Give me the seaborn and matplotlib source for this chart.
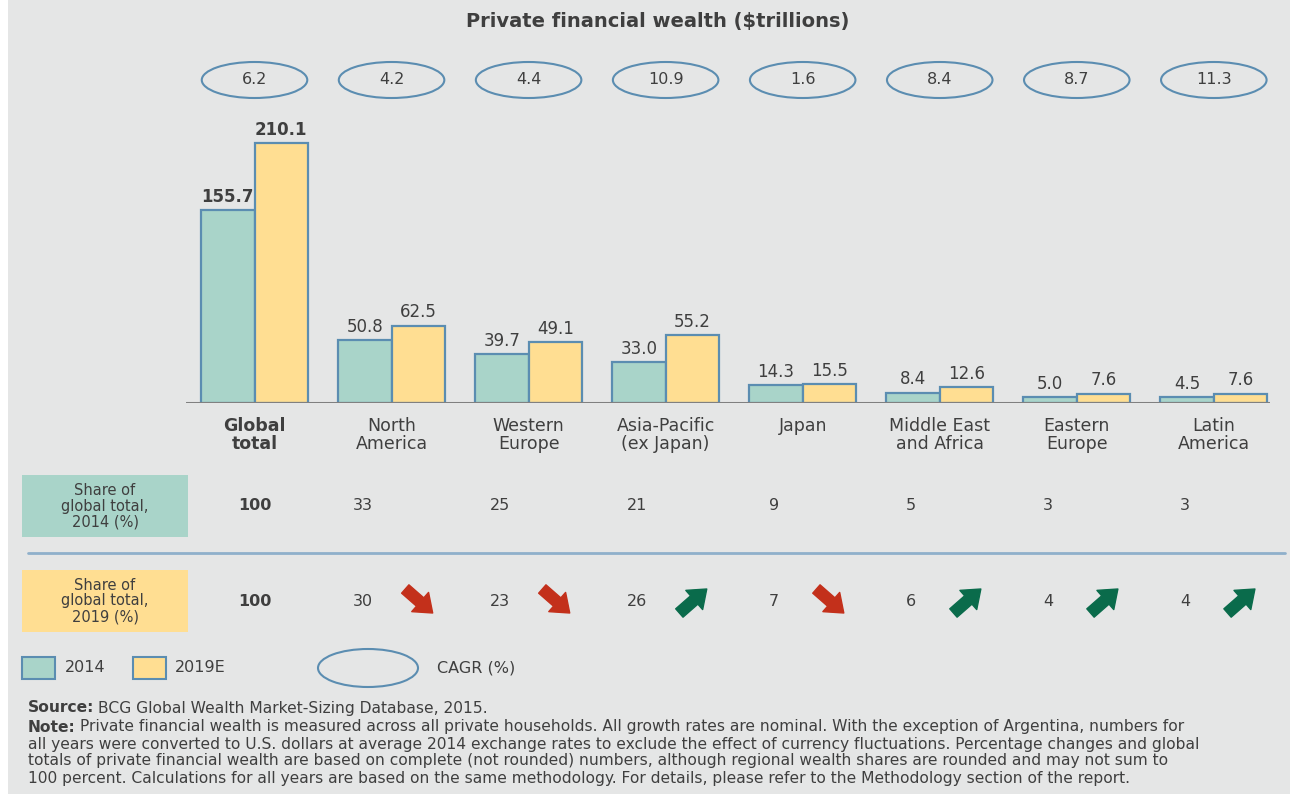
import matplotlib
matplotlib.use('Agg')
import matplotlib.pyplot as plt
import matplotlib.transforms as mtransforms
from matplotlib.patches import Ellipse, Rectangle
import pandas as pd
import seaborn as sns

# --- data ---
regions = ['Global\ntotal', 'North\nAmerica', 'Western\nEurope', 'Asia-Pacific\n(ex Japan)',
           'Japan', 'Middle East\nand Africa', 'Eastern\nEurope', 'Latin\nAmerica']
wealth_2014 = [155.7, 50.8, 39.7, 33.0, 14.3, 8.4, 5.0, 4.5]
wealth_2019 = [210.1, 62.5, 49.1, 55.2, 15.5, 12.6, 7.6, 7.6]
cagr = ['6.2', '4.2', '4.4', '10.9', '1.6', '8.4', '8.7', '11.3']
share_2014 = [100, 33, 25, 21, 9, 5, 3, 3]
share_2019 = [100, 30, 23, 26, 7, 6, 4, 4]
years = ['2014', '2019E']

TEAL = '#A9D4C9'
YELLOW = '#FFDE92'
EDGE = '#5B8DB1'
TEXT = '#3F3F3F'
BG = '#E5E6E6'
RED = '#C3301B'
GREEN = '#0A6B4B'

W, H = 1295, 794

df = pd.DataFrame({
    'region': regions * 2,
    'year': [years[0]] * len(regions) + [years[1]] * len(regions),
    'value': wealth_2014 + wealth_2019,
})

sns.set_theme(style='white')
plt.rcParams['font.family'] = ['DejaVu Sans']

fig = plt.figure(figsize=(W / 100, H / 100), dpi=100)
fig.patch.set_facecolor('white')
fig.patches.append(Rectangle((8 / W, 0), 1282 / W, 1, transform=fig.transFigure,
                             facecolor=BG, edgecolor='none', zorder=-10))


def fy(px):
    return 1 - px / H


def fx(px):
    return px / W


# bar axes: baseline at y=403px, top at 130px
ax = fig.add_axes([fx(186), fy(403), fx(1270) - fx(186), fy(130) - fy(403)])
ax.set_facecolor('none')
sns.barplot(data=df, x='region', y='value', hue='year', palette=[TEAL, YELLOW],
            saturation=1, width=0.78, edgecolor=EDGE, linewidth=1.6, legend=False, ax=ax)
ax.set_xlim(-0.5, 7.41)
ax.set_ylim(0, 220.6)
ax.axhline(0, color='#808080', lw=2.2, zorder=5)
for s in ax.spines.values():
    s.set_visible(False)
ax.set_yticks([])
ax.set_xlabel('')
ax.set_ylabel('')
ax.tick_params(axis='x', length=0, pad=10)
ax.set_xticks(range(len(regions)))
ax.set_xticklabels(regions, fontsize=12.5, color=TEXT, linespacing=1.0)
ax.get_xticklabels()[0].set_fontweight('bold')

for cont in ax.containers:
    labels = ax.bar_label(cont, fmt='%.1f', padding=3, fontsize=12, color=TEXT)
    labels[0].set_fontweight('bold')

bt = mtransforms.blended_transform_factory(ax.transData, fig.transFigure)

# title
fig.text(0.508, fy(22), 'Private financial wealth ($trillions)', ha='center', va='center',
         fontsize=14, fontweight='bold', color=TEXT)

# CAGR ellipses
for i, c in enumerate(cagr):
    ax.add_patch(Ellipse((i, fy(80)), 0.77, 36 / H, transform=bt, fill=False,
                         edgecolor=EDGE, lw=1.5, clip_on=False))
    ax.text(i, fy(80), c, transform=bt, ha='center', va='center', fontsize=11.5,
            color=TEXT, clip_on=False)

# share rows
rows = [(share_2014, TEAL, 506, 'Share of\nglobal total,\n2014 (%)'),
        (share_2019, YELLOW, 601, 'Share of\nglobal total,\n2019 (%)')]
for vals, col, yc, lab in rows:
    fig.patches.append(Rectangle((fx(22), fy(yc + 31)), fx(188) - fx(22), 62 / H,
                                 transform=fig.transFigure, facecolor=col,
                                 edgecolor='none', zorder=-5))
    fig.text(fx(105), fy(yc), lab, ha='center', va='center', fontsize=10.5,
             color=TEXT, linespacing=1.05)
    for i, v in enumerate(vals):
        xpos = i if i == 0 else i - 0.21
        ax.text(xpos, fy(yc), str(v), transform=bt, ha='center', va='center',
                fontsize=11.5, color=TEXT, fontweight='bold' if i == 0 else 'normal',
                clip_on=False)

fig.add_artist(plt.Line2D([fx(28), fx(1285)], [fy(553), fy(553)],
                          transform=fig.transFigure, color='#8FB0CB', lw=2))

# trend arrows: 2019 share vs 2014 share
arrow_style = 'simple,head_length=0.75,head_width=1.15,tail_width=0.5'
for i in range(1, len(regions)):
    up = share_2019[i] > share_2014[i]
    x0 = i + 0.2
    if up:
        start, end, col = (x0 - 0.1, fy(613)), (x0 + 0.1, fy(589)), GREEN
    else:
        start, end, col = (x0 - 0.1, fy(589)), (x0 + 0.1, fy(613)), RED
    ax.annotate('', xy=end, xycoords=bt, xytext=start, textcoords=bt,
                arrowprops=dict(arrowstyle=arrow_style, color=col, mutation_scale=16,
                                shrinkA=0, shrinkB=0),
                annotation_clip=False)

# legend
for x0, col, lab, tx in [(22, TEAL, '2014', 65), (133, YELLOW, '2019E', 175)]:
    fig.patches.append(Rectangle((fx(x0), fy(679)), 33 / W, 22 / H,
                                 transform=fig.transFigure, facecolor=col,
                                 edgecolor=EDGE, lw=1.5))
    fig.text(fx(tx), fy(668), lab, ha='left', va='center', fontsize=11.5, color=TEXT)
fig.patches.append(Ellipse((fx(368), fy(668)), 100 / W, 38 / H, transform=fig.transFigure,
                           fill=False, edgecolor=EDGE, lw=1.5))
fig.text(fx(437), fy(668), 'CAGR (%)', ha='left', va='center', fontsize=11.5, color=TEXT)

# footnotes
note_lines = [
    'Private financial wealth is measured across all private households. All growth rates are nominal. '
    'With the exception of Argentina, numbers for',
    'all years were converted to U.S. dollars at average 2014 exchange rates to exclude the effect of '
    'currency fluctuations. Percentage changes and global',
    'totals of private financial wealth are based on complete (not rounded) numbers, although regional '
    'wealth shares are rounded and may not sum to',
    '100 percent. Calculations for all years are based on the same methodology. For details, please '
    'refer to the Methodology section of the report.',
]
NOTE_FS = 11.2
fig.canvas.draw()
renderer = fig.canvas.get_renderer()


def lead(y, bold, rest):
    t = fig.text(fx(28), fy(y), bold, ha='left', va='center', fontsize=NOTE_FS,
                 fontweight='bold', color=TEXT)
    bb = t.get_window_extent(renderer=renderer)
    fig.text(bb.x1 / W + 4 / W, fy(y), rest, ha='left', va='center', fontsize=NOTE_FS,
             color=TEXT)


lead(708, 'Source:', 'BCG Global Wealth Market-Sizing Database, 2015.')
lead(727, 'Note:', note_lines[0])
for k, line in enumerate(note_lines[1:]):
    fig.text(fx(28), fy(744 + 17 * k), line, ha='left', va='center', fontsize=NOTE_FS,
             color=TEXT)

fig.savefig('out.png', dpi=100)
